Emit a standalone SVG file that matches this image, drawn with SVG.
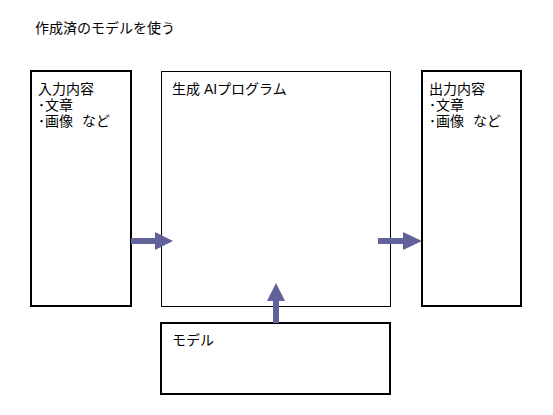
<svg xmlns="http://www.w3.org/2000/svg" width="553" height="415" viewBox="0 0 553 415">
<style>
text{font-family:"Liberation Sans","Noto Sans CJK JP","Noto Sans CJK SC",sans-serif;font-size:14px;fill:#000}
.thick{fill:#fff;stroke:#000;stroke-width:2}
.thin{fill:#fff;stroke:#000;stroke-width:1}
.arr{fill:#62629a}
</style>
<rect width="553" height="415" fill="#fff"/>
<text x="35" y="33">作成済のモデルを使う</text>
<g id="input">
<rect class="thick" x="31" y="71" width="100" height="235"/>
<text x="38" y="94">入力内容</text>
<text x="38" y="110">･文章</text>
<text x="38" y="126">･画像<tspan dx="5"> など</tspan></text>
</g>
<g id="program">
<rect class="thin" x="161.5" y="71.5" width="229" height="235"/>
<text x="172" y="94">生成 AIプログラム</text>
</g>
<g id="output">
<rect class="thick" x="422" y="71" width="99" height="235"/>
<text x="429" y="94">出力内容</text>
<text x="429" y="110">･文章</text>
<text x="429" y="126">･画像<tspan dx="5"> など</tspan></text>
</g>
<g id="model">
<rect class="thick" x="161" y="323" width="229" height="71"/>
<text x="172" y="345">モデル</text>
</g>
<g id="connectors">
<polygon class="arr" points="131,238 155,238 155,232 173,241 155,250 155,244 131,244"/>
<polygon class="arr" points="378,238 403,238 403,232 422,241 403,250 403,244 378,244"/>
<polygon class="arr" points="273,323 273,301 267,301 276,283 285,301 279,301 279,323"/>
</g>
</svg>
